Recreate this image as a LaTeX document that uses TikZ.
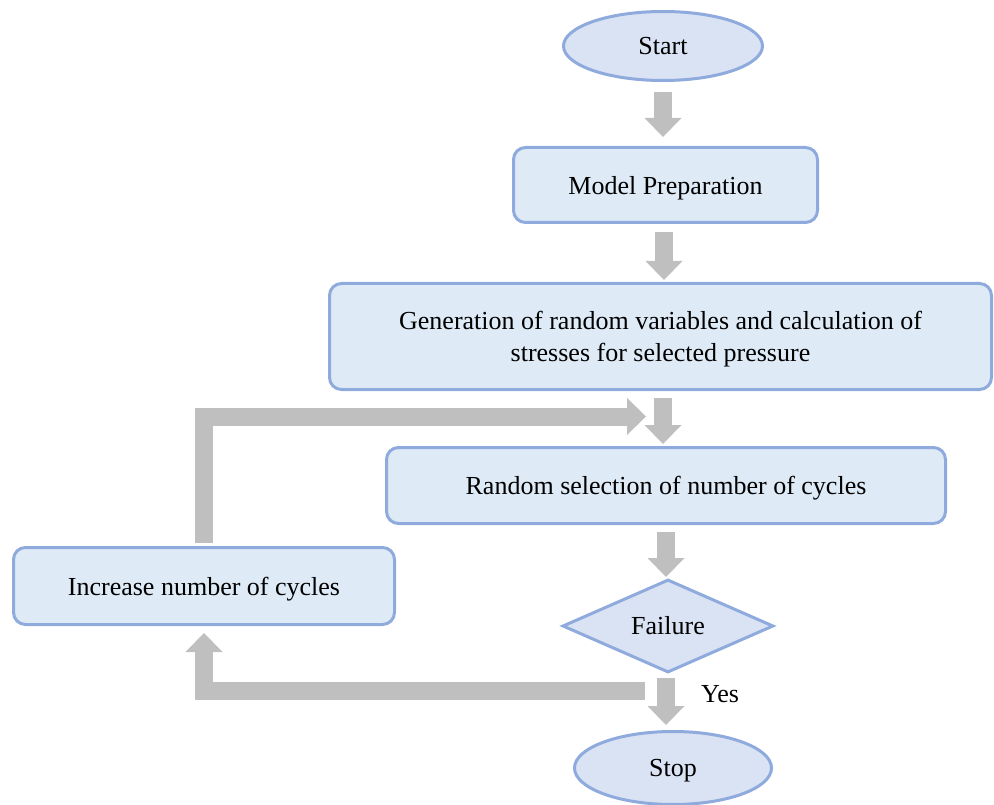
\documentclass[tikz,border=0pt]{standalone}
\usepackage{fontspec}
\setmainfont{Liberation Serif}
\usetikzlibrary{shapes.geometric,arrows.meta,calc}
\definecolor{bfill}{HTML}{DEEAF6}
\definecolor{efill}{HTML}{DAE3F3}
\definecolor{bline}{HTML}{8FAADC}
\definecolor{agray}{HTML}{BFBFBF}
\tikzset{
 every node/.style={font=\fontsize{26}{32}\selectfont, text=black},
 procbox/.style={draw=bline, fill=bfill, line width=3pt, rounded corners=12pt, inner sep=0pt, align=center, text depth=0pt},
 termnode/.style={ellipse, draw=bline, fill=efill, line width=3pt, inner sep=0pt, text depth=0pt},
 decnode/.style={diamond, draw=bline, fill=efill, line width=3pt, inner sep=0pt},
 blk/.style={draw=agray, line width=18pt, line join=miter, -{Triangle[width=37pt,length=19pt,line width=0pt]}},
}
\begin{document}
\begin{tikzpicture}[x=1pt,y=-1pt]
\useasboundingbox (0,0) rectangle (994,805);
\node[termnode, minimum width=199pt, minimum height=69pt] (start) at (663,46) {Start};
\node[procbox, minimum width=304pt, minimum height=75pt] (prep) at (665.5,185) {Model Preparation};
\node[procbox, minimum width=662pt, minimum height=106pt] (gen) at (660.5,336.5) {Generation of random variables and calculation of\\stresses for selected pressure};
\node[procbox, minimum width=559pt, minimum height=76pt] (rand) at (666,485.5) {Random selection of number of cycles};
\node[procbox, minimum width=381pt, minimum height=77pt] (inc) at (204,586) {Increase number of cycles};
\node[decnode, minimum width=211pt, minimum height=93pt] (fail) at (668,626) {Failure};
\node[termnode, minimum width=197pt, minimum height=73pt] (stop) at (673,768) {Stop};
\node (yes) at (720,694) {Yes};
\coordinate (ltip) at (646,416.5);
\coordinate (lstart) at (645,691);
\draw[blk, shorten <=10pt, shorten >=9pt] (start.south) -- (start.south |- prep.north);
\draw[blk, shorten <=8pt, shorten >=2pt] ($(prep.south)+(-1.5,0)$) -- ($(prep.south |- gen.north)+(-1.5,0)$);
\draw[blk, shorten <=7pt, shorten >=2pt] ($(gen.south)+(2.5,0)$) -- ($(gen.south |- rand.north)+(2.5,0)$);
\draw[blk, shorten <=7pt, shorten >=1pt] (rand.south) -- (rand.south |- fail.north);
\draw[blk, shorten <=4pt, shorten >=5pt] ($(fail.south)+(-2,0)$) -- ($(fail.south |- stop.north)+(-2,0)$);
\draw[blk, shorten <=3pt] (inc.north) |- (ltip);
\draw[blk, shorten >=7pt] (lstart) -| (inc.south);
\end{tikzpicture}
\end{document}
